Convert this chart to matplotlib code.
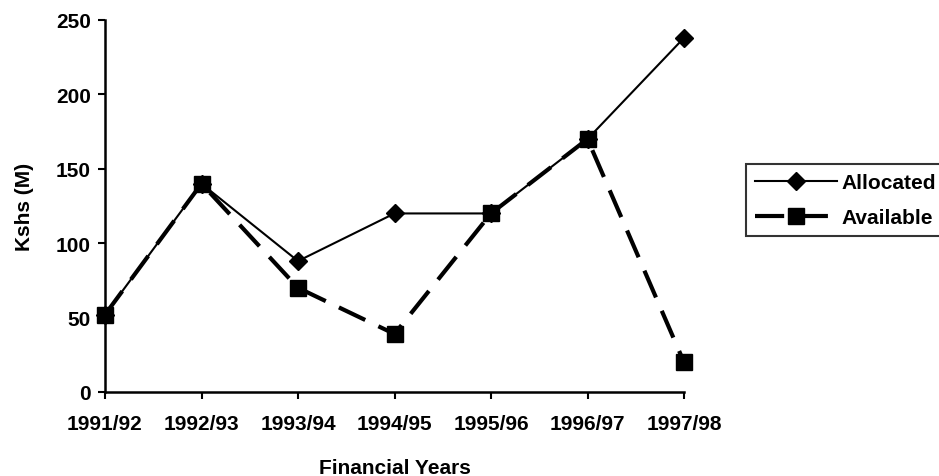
import matplotlib.pyplot as plt

years = ["1991/92", "1992/93", "1993/94", "1994/95", "1995/96", "1996/97", "1997/98"]
allocated = [52, 140, 88, 120, 120, 170, 238]
available = [52, 140, 70, 39, 120, 170, 20]

plt.rcParams["font.family"] = ["Liberation Sans", "DejaVu Sans"]
plt.rcParams["font.weight"] = "bold"

fig = plt.figure(figsize=(9.39, 4.77), dpi=100)
ax = fig.add_axes([105 / 939, 84 / 477, 579 / 939, 372 / 477])

x = list(range(len(years)))
ax.plot(x, allocated, color="black", linewidth=1.5, marker="D", markersize=9,
        label="Allocated", clip_on=False, zorder=3)
ax.plot(x, available, color="black", linewidth=3, linestyle=(0, (7, 3.5)),
        marker="s", markersize=11, label="Available", clip_on=False, zorder=4)

ax.set_xlim(0, len(years) - 1)
ax.set_ylim(0, 250)
ax.set_yticks([0, 50, 100, 150, 200, 250])
ax.set_xticks(x)
ax.set_xticklabels(years)
ax.tick_params(axis="both", labelsize=15, width=1.5, length=5, direction="out")
ax.tick_params(axis="x", pad=11)
ax.tick_params(axis="y", pad=5)
for s in ["top", "right"]:
    ax.spines[s].set_visible(False)
for s in ["left", "bottom"]:
    ax.spines[s].set_linewidth(1.8)

ax.set_xlabel("Financial Years", fontsize=15, fontweight="bold", labelpad=18)
ax.set_ylabel("Kshs (M)", fontsize=15, fontweight="bold", labelpad=16)

leg = fig.legend(loc="upper left", bbox_to_anchor=(746 / 939, 1 - 165 / 477),
                 fontsize=15, frameon=True, fancybox=False, edgecolor="black",
                 handlelength=3.9, handletextpad=0.25, borderpad=0.45,
                 labelspacing=0.75, borderaxespad=0)
leg.get_frame().set_linewidth(1.5)

fig.savefig("out.png", dpi=100)
